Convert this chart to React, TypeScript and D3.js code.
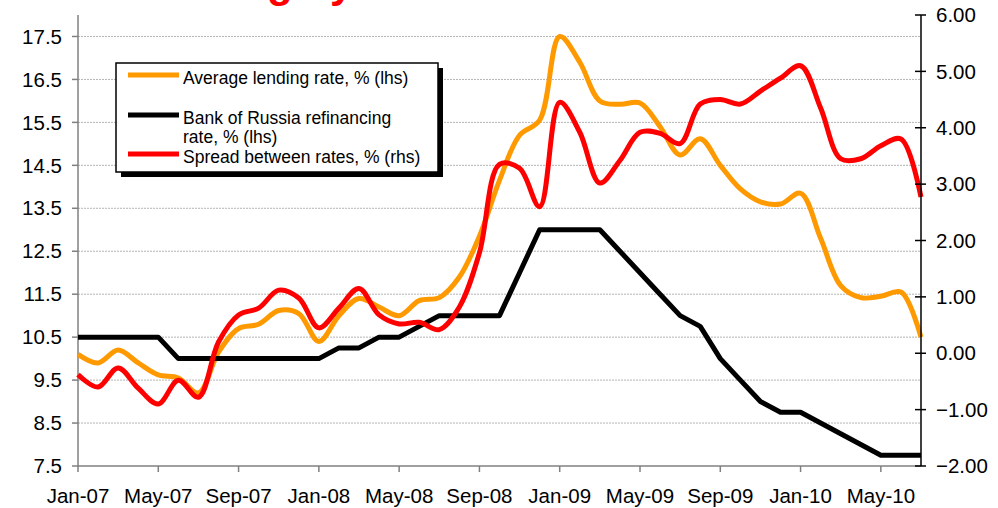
import React from "react";
import * as d3 from "d3";

// Monthly observations, Jan-2007 .. Jul-2010
const months = [
  "2007-01", "2007-02", "2007-03", "2007-04", "2007-05", "2007-06", "2007-07", "2007-08", "2007-09", "2007-10", "2007-11", "2007-12",
  "2008-01", "2008-02", "2008-03", "2008-04", "2008-05", "2008-06", "2008-07", "2008-08", "2008-09", "2008-10", "2008-11", "2008-12",
  "2009-01", "2009-02", "2009-03", "2009-04", "2009-05", "2009-06", "2009-07", "2009-08", "2009-09", "2009-10", "2009-11", "2009-12",
  "2010-01", "2010-02", "2010-03", "2010-04", "2010-05", "2010-06", "2010-07",
];

// Average lending rate, % (left axis)
const lendingRate = [
  10.1, 9.9, 10.2, 9.9, 9.62, 9.55, 9.2, 10.15, 10.7, 10.8, 11.12, 11.05,
  10.4, 11.0, 11.4, 11.2, 11.0, 11.35, 11.42, 11.9, 12.85, 14.15, 15.2, 15.55,
  17.5, 16.9, 16.0, 15.92, 15.95, 15.4, 14.74, 15.12, 14.5, 13.95, 13.65, 13.6,
  13.85, 12.8, 11.7, 11.42, 11.45, 11.55, 10.5,
];

// Bank of Russia refinancing rate, % (left axis)
const refinancingRate = [
  10.5, 10.5, 10.5, 10.5, 10.5, 10.0, 10.0, 10.0, 10.0, 10.0, 10.0, 10.0,
  10.0, 10.25, 10.25, 10.5, 10.5, 10.75, 11.0, 11.0, 11.0, 11.0, 12.0, 13.0,
  13.0, 13.0, 13.0, 12.5, 12.0, 11.5, 11.0, 10.75, 10.0, 9.5, 9.0, 8.75,
  8.75, 8.5, 8.25, 8.0, 7.75, 7.75, 7.75,
];

// Spread between rates, % (right axis)
const spread = [
  -0.38, -0.6, -0.26, -0.62, -0.9, -0.48, -0.78, 0.2, 0.68, 0.8, 1.12, 0.98,
  0.45, 0.8, 1.15, 0.68, 0.52, 0.55, 0.42, 0.82, 1.78, 3.35, 3.28, 2.6,
  4.45, 3.92, 3.02, 3.42, 3.92, 3.9, 3.72, 4.42, 4.5, 4.42, 4.65, 4.88,
  5.1, 4.35, 3.45, 3.45, 3.68, 3.8, 2.77,
];

const xTickMonths = ["2007-01", "2007-05", "2007-09", "2008-01", "2008-05", "2008-09", "2009-01", "2009-05", "2009-09", "2010-01", "2010-05"];
const xTickLabels = ["Jan-07", "May-07", "Sep-07", "Jan-08", "May-08", "Sep-08", "Jan-09", "May-09", "Sep-09", "Jan-10", "May-10"];
const leftTicks = [7.5, 8.5, 9.5, 10.5, 11.5, 12.5, 13.5, 14.5, 15.5, 16.5, 17.5];
const rightTicks = [-2, -1, 0, 1, 2, 3, 4, 5, 6];

const legendRows = [
  { color: "#FF9900", lines: ["Average lending rate, % (lhs)"] },
  { color: "#000000", lines: ["Bank of Russia refinancing", "rate, % (lhs)"] },
  { color: "#FF0000", lines: ["Spread between rates, % (rhs)"] },
];

const W = 998;
const H = 508;
const plot = { left: 78, right: 921, top: 15, bottom: 466 };
const FONT = "'Liberation Sans', Arial, sans-serif";

export default function App() {
  const x = d3.scalePoint<string>().domain(months).range([plot.left, plot.right]).padding(0);
  const yL = d3.scaleLinear().domain([7.5, 18]).range([plot.bottom, plot.top]);
  const yR = d3.scaleLinear().domain([-2, 6]).range([plot.bottom, plot.top]);

  const smoothL = d3
    .line<number>()
    .x((_, i) => x(months[i]) as number)
    .y((d) => yL(d))
    .curve(d3.curveCatmullRom.alpha(0.5));
  const straightL = d3
    .line<number>()
    .x((_, i) => x(months[i]) as number)
    .y((d) => yL(d));
  const smoothR = d3
    .line<number>()
    .x((_, i) => x(months[i]) as number)
    .y((d) => yR(d))
    .curve(d3.curveCatmullRom.alpha(0.5));

  const fmtL = d3.format(".1f");
  const fmtR = d3.format(".2f");

  const legend = { x: 116, y: 63, w: 322, h: 109 };
  const legendLineY = [75, 115, 154];
  const legendTextY = [[84], [124, 143], [163]];

  return (
    <svg
      width={W}
      height={H}
      style={{ position: "absolute", left: 0, top: 0, background: "#fff" }}
      fontFamily={FONT}
    >
      {/* title (extends above the frame) */}
      <text x={29} y={-3} fill="#FF0000" fontWeight="bold" fontSize={42}>
        Rates are highly elevated
      </text>

      {/* gridlines */}
      {leftTicks
        .filter((t) => t > 7.5)
        .map((t) => (
          <line
            key={"g" + t}
            x1={plot.left}
            x2={plot.right}
            y1={yL(t)}
            y2={yL(t)}
            stroke="#b4b4b4"
            strokeWidth={1}
            strokeDasharray="2 1"
          />
        ))}

      {/* left axis */}
      <line x1={plot.left} x2={plot.left} y1={plot.top} y2={plot.bottom} stroke="#808080" strokeWidth={1.5} />
      {leftTicks.map((t) => (
        <g key={"l" + t}>
          <line x1={plot.left - 6} x2={plot.left} y1={yL(t)} y2={yL(t)} stroke="#808080" strokeWidth={1.5} />
          <text x={62} y={yL(t)} dy="0.35em" textAnchor="end" fontSize={20.5} fill="#000">
            {fmtL(t)}
          </text>
        </g>
      ))}

      {/* bottom axis */}
      <line x1={plot.left} x2={plot.right} y1={plot.bottom} y2={plot.bottom} stroke="#808080" strokeWidth={1.5} />
      {xTickMonths.map((m, i) => (
        <g key={"x" + m}>
          <line x1={x(m)} x2={x(m)} y1={plot.bottom} y2={plot.bottom + 6} stroke="#808080" strokeWidth={1.5} />
          <text x={x(m)} y={503} textAnchor="middle" fontSize={20.5} fill="#000">
            {xTickLabels[i]}
          </text>
        </g>
      ))}

      {/* series */}
      <path d={smoothL(lendingRate) || ""} fill="none" stroke="#FF9900" strokeWidth={5} strokeLinejoin="round" />
      <path d={straightL(refinancingRate) || ""} fill="none" stroke="#000000" strokeWidth={5} strokeLinejoin="round" />
      <path d={smoothR(spread) || ""} fill="none" stroke="#FF0000" strokeWidth={5} strokeLinejoin="round" />

      {/* right axis */}
      <line x1={plot.right} x2={plot.right} y1={plot.top} y2={plot.bottom} stroke="#000" strokeWidth={1.5} />
      {rightTicks.map((t) => (
        <g key={"r" + t}>
          <line x1={plot.right - 6} x2={plot.right + 5} y1={yR(t)} y2={yR(t)} stroke="#000" strokeWidth={1.5} />
          <text x={936} y={yR(t)} dy="0.35em" textAnchor="start" fontSize={20.5} fill="#000">
            {fmtR(t)}
          </text>
        </g>
      ))}

      {/* legend */}
      <rect x={legend.x + 5} y={legend.y + 5} width={legend.w} height={legend.h} fill="#000" />
      <rect x={legend.x} y={legend.y} width={legend.w} height={legend.h} fill="#fff" stroke="#000" strokeWidth={1.5} />
      {legendRows.map((row, i) => (
        <g key={"lg" + i}>
          <line x1={128} x2={179} y1={legendLineY[i]} y2={legendLineY[i]} stroke={row.color} strokeWidth={5} />
          {row.lines.map((s, j) => (
            <text key={j} x={183} y={legendTextY[i][j]} fontSize={17.5} fill="#000">
              {s}
            </text>
          ))}
        </g>
      ))}
    </svg>
  );
}
